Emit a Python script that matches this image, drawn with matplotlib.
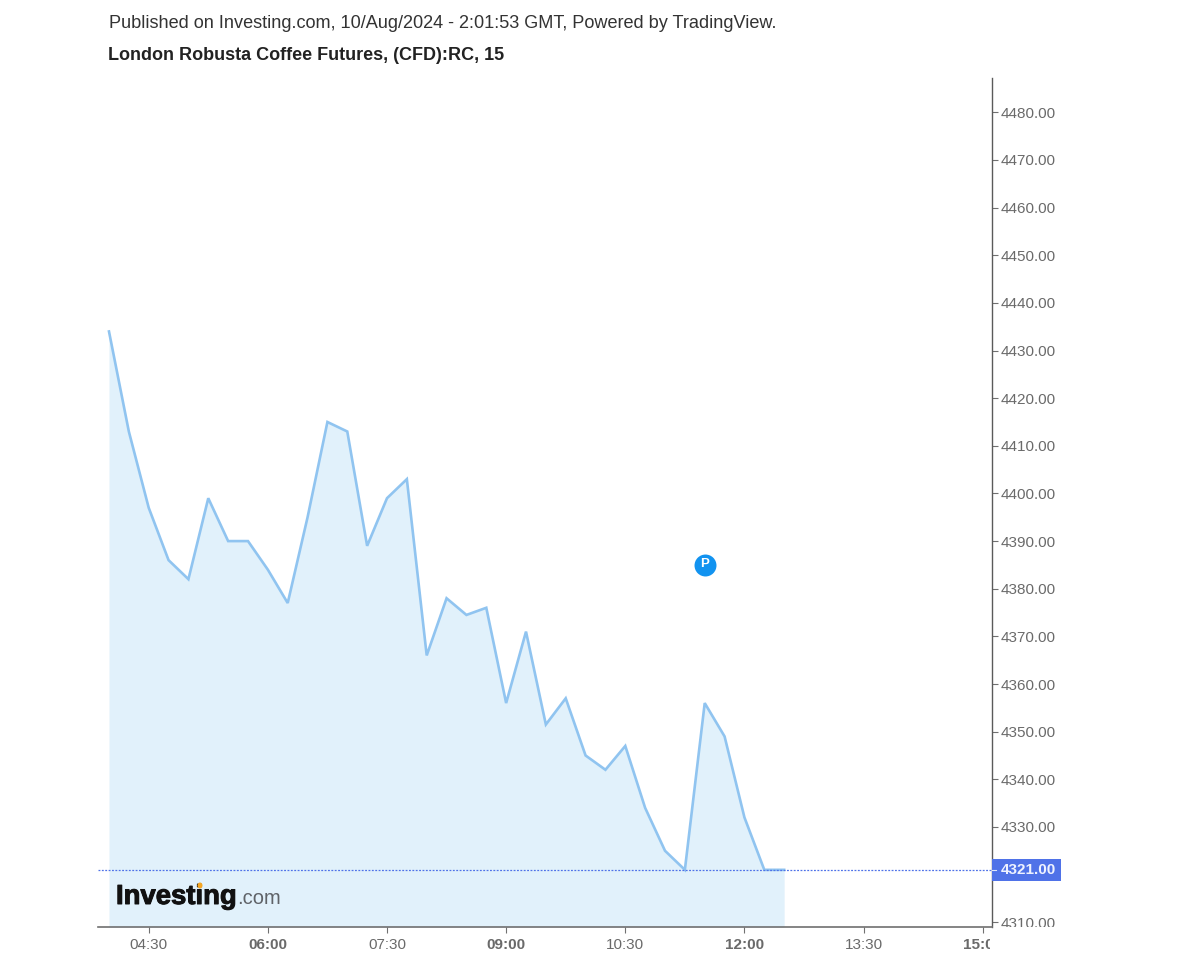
import matplotlib
matplotlib.use("Agg")
import matplotlib.pyplot as plt
import matplotlib.patheffects as pe
from matplotlib.lines import Line2D
from matplotlib.patches import Ellipse, Rectangle
from matplotlib.transforms import Bbox

plt.rcParams['font.family'] = ['Liberation Sans', 'DejaVu Sans']

# minutes since midnight, one point every 15 min from 04:00 to 12:30
times = [240 + 15 * i for i in range(35)]
prices = [4434, 4413, 4397, 4386, 4382, 4399, 4390, 4390, 4384, 4377,
          4395, 4415, 4413, 4389, 4399, 4403, 4366, 4378, 4374.5, 4376,
          4356, 4371, 4351.5, 4357, 4345, 4342, 4347, 4334, 4325, 4321,
          4356, 4349, 4332, 4321, 4321]
last_price = 4321
note_time = 690
note_price = 4385

x_ticks = [270, 360, 450, 540, 630, 720, 810, 900]
x_labels = ['04:30', '06:00', '07:30', '09:00', '10:30', '12:00', '13:30', '15:00']
bold_labels = ['06:00', '09:00', '12:00', '15:00']
# 4320 is hidden by the price tag in the original
y_ticks = [4310] + list(range(4330, 4490, 10))

W, H = 1200, 960
fig = plt.figure(figsize=(W / 100, H / 100), dpi=100, facecolor='white')
L, R, T, B = 98, 992, 78, 927
ax = fig.add_axes([L / W, 1 - B / H, (R - L) / W, (B - T) / H])
ax.set_xlim(231.7, 907)
ax.set_ylim(4309.0, 4487.2)

line_color = '#90c4f0'
ax.fill_between(times, prices, 4309.0, color='#e1f1fb', lw=0, zorder=1)
ax.plot(times, prices, color=line_color, lw=1.9, zorder=3, solid_joinstyle='miter')
ax.axhline(last_price, color='#4f72e8', lw=0.9, ls=(0, (1.5, 1.2)), zorder=4)

# publication marker
ax.scatter([note_time], [note_price], s=250, color='#1293f0', zorder=5, lw=0)
ax.text(note_time, note_price + 0.2, 'P', color='white', fontsize=9.5, fontweight='bold',
        ha='center', va='center', zorder=6)

for s in ['top', 'left']:
    ax.spines[s].set_visible(False)
ax.spines['right'].set_color('#5a5a5a')
ax.spines['bottom'].set_color('#707070')
ax.spines['right'].set_linewidth(1.0)
ax.spines['bottom'].set_linewidth(1.2)

ax.yaxis.tick_right()
ax.set_yticks(y_ticks)
ax.set_yticklabels(['%.2f' % v for v in y_ticks])
ax.set_xticks(x_ticks)
ax.set_xticklabels(x_labels)
ax.tick_params(axis='y', length=4, width=0.8, color='#707070', labelcolor='#6a6a6a',
               labelsize=11, pad=2.5)
ax.tick_params(axis='x', length=4, width=0.8, color='#707070', labelcolor='#6a6a6a',
               labelsize=11, pad=4)
for lab in ax.get_xticklabels():
    if lab.get_text() in bold_labels:
        lab.set_fontweight('bold')
    lab.set_clip_on(True)
    lab.set_clip_box(Bbox([[0, 0], [990, H]]))
for lab in ax.get_yticklabels():
    lab.set_clip_on(True)
    lab.set_clip_box(Bbox([[0, H - B], [W, H]]))

# price tag on the axis
fig.add_artist(Rectangle((992 / W, 1 - 881 / H), 69 / W, 22 / H, transform=fig.transFigure,
                         fc='#4f72e8', ec='none', zorder=7))
fig.add_artist(Line2D([992 / W, 996 / W], [1 - 870 / H, 1 - 870 / H], transform=fig.transFigure,
                      color='#dfe6fb', lw=0.8, zorder=8))
fig.text(1028.5 / W, 1 - 870.5 / H, '%.2f' % last_price, ha='center', va='center',
         color='#eef2ff', fontsize=11, fontweight='bold', zorder=8)

# header
fig.text(109 / W, 1 - 24 / H, 'Published on Investing.com, 10/Aug/2024 - 2:01:53 GMT, Powered by TradingView.',
         color='#333333', fontsize=13.03, ha='left', va='center')
fig.text(108 / W, 1 - 55 / H, 'London Robusta Coffee Futures, (CFD):RC, 15',
         color='#222222', fontsize=12.95, fontweight='bold', ha='left', va='center')

# logo
logo = fig.text(116 / W, 1 - 897 / H, 'Investing', color='#111111', fontsize=19.8,
                fontweight='bold', ha='left', va='center', zorder=9)
logo.set_path_effects([pe.withStroke(linewidth=0.7, foreground='#111111')])
fig.text(237 / W, 1 - 899 / H, '.com', color='#5f6368', fontsize=14.5,
         ha='left', va='center', zorder=9)
fig.add_artist(Ellipse((200 / W, 1 - 885.5 / H), 5 / W, 6 / H, angle=0, transform=fig.transFigure,
                       fc='#f5a623', ec='none', zorder=10))

fig.savefig('out.png', dpi=100, facecolor='white')
